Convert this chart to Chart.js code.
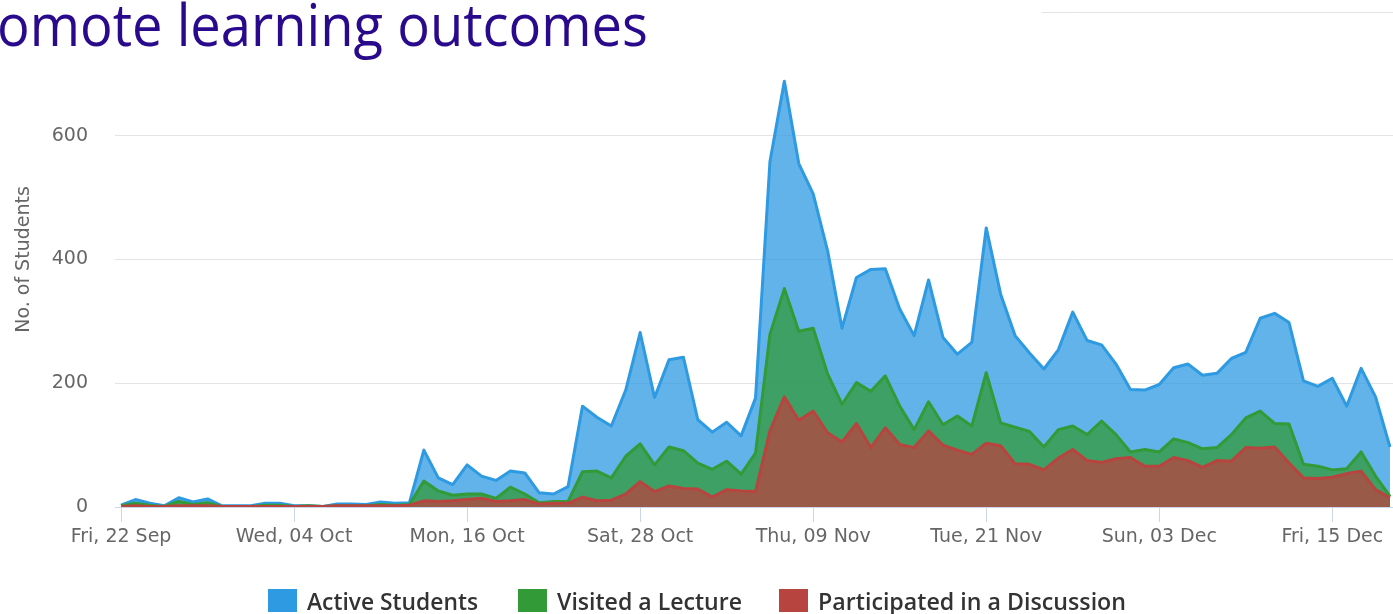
<!DOCTYPE html>
<html>
<head>
<meta charset="utf-8">
<script src="https://cdn.jsdelivr.net/npm/chart.js@4.4.0/dist/chart.umd.min.js"></script>
<style>
html,body{margin:0;padding:0;background:#fff;width:1393px;height:614px;overflow:hidden;}
body{position:relative;font-family:"Open Sans",sans-serif;}
#chartBox{position:absolute;left:0;top:0;width:1393px;height:614px;}
#title{position:absolute;left:0;top:0;width:1042px;height:62px;background:#fff;overflow:hidden;z-index:2;}
#title span{position:absolute;left:-3px;top:-5px;font-family:"Open Sans",sans-serif;font-size:58px;line-height:58px;color:#2a0a8c;white-space:nowrap;transform-origin:0 0;}
.legBox{position:absolute;top:589px;width:29px;height:23px;}
.legText{position:absolute;top:589px;font-family:"Open Sans",sans-serif;font-weight:600;font-size:24px;line-height:24px;color:#333;white-space:nowrap;transform-origin:0 0;}
</style>
</head>
<body>
<div id="chartBox"><canvas id="c" width="1393" height="614"></canvas></div>
<div id="title"><span id="titleText">omote learning outcomes</span></div>
<div id="legend"></div>
<script>
// ---- data (one value per day, starting Fri 22 Sep) ----
const seriesNames = ["Active Students", "Visited a Lecture", "Participated in a Discussion"];
const activeStudents = [3,12,6,2,15,8,13,2,2,2,6,6,2,2,1,5,5,4,8,6,7,92,47,36,68,50,43,58,55,23,21,33,163,145,131,189,282,177,238,242,141,121,137,115,176,558,688,555,506,414,289,371,384,385,320,277,367,274,247,266,451,344,277,249,223,254,315,269,262,231,190,189,198,225,231,213,216,240,250,305,313,298,204,195,208,163,224,178,97];
const visitedLecture = [2,6,3,1,9,4,7,1,1,1,3,3,1,2,1,2,2,2,4,3,4,42,26,19,21,21,14,32,21,7,9,9,57,58,47,82,102,68,97,91,71,61,74,53,87,279,353,284,289,215,166,201,187,212,163,125,170,133,147,131,217,136,129,122,97,125,131,117,139,117,89,93,89,110,104,94,96,117,144,155,135,134,69,66,60,62,89,50,17];
const participatedDiscussion = [1,2,1,1,2,2,2,1,1,1,1,1,1,1,1,2,2,2,2,2,3,10,9,10,12,14,9,10,12,5,6,6,16,10,11,21,41,25,34,30,29,16,28,26,25,123,178,140,155,120,105,135,96,128,101,96,123,100,92,85,103,99,70,69,60,79,93,75,72,78,80,66,66,80,75,64,75,74,96,95,97,71,47,46,48,54,58,28,15];
const tickDays = [0,12,24,36,48,60,72,84];
const tickLabels = ["Fri, 22 Sep","Wed, 04 Oct","Mon, 16 Oct","Sat, 28 Oct","Thu, 09 Nov","Tue, 21 Nov","Sun, 03 Dec","Fri, 15 Dec"];
const yTicks = [0,200,400,600,800];
const yTitle = "No. of Students";

const colors = ["#2d9ae2", "#339a38", "#b8443f"];
const fills = ["rgba(45,154,226,0.75)", "rgba(51,154,56,0.75)", "rgba(184,68,63,0.75)"];

const toPts = arr => arr.map((v, i) => ({x: i, y: v}));
const seriesData = [activeStudents, visitedLecture, participatedDiscussion];

const datasets = seriesData.map((arr, k) => ({
  label: seriesNames[k],
  data: toPts(arr),
  borderColor: colors[k],
  backgroundColor: fills[k],
  borderWidth: 3,
  fill: 'origin',
  pointRadius: 0,
  pointHoverRadius: 0,
  tension: 0,
  borderJoinStyle: 'round',
  order: 3 - k
}));

const axisFont = { family: '"DejaVu Sans", sans-serif', size: 19 };

new Chart(document.getElementById('c'), {
  type: 'line',
  data: { datasets },
  options: {
    responsive: false,
    animation: false,
    devicePixelRatio: 1,
    layout: { padding: { top: 12, right: 0, bottom: 0, left: 0 } },
    plugins: { legend: { display: false }, tooltip: { enabled: false } },
    scales: {
      x: {
        type: 'linear',
        min: -0.42,
        max: 88.21,
        afterBuildTicks: s => { s.ticks = tickDays.map(v => ({ value: v })); },
        afterFit: s => { s.height = 107; s.paddingLeft = 0; s.paddingRight = 0; },
        ticks: {
          callback: (v) => tickLabels[tickDays.indexOf(v)],
          autoSkip: false,
          maxRotation: 0,
          color: '#666',
          font: axisFont,
          padding: 4
        },
        grid: { display: true, drawOnChartArea: false, drawTicks: true, tickLength: 15, color: '#ccd6eb', lineWidth: 1 },
        border: { display: true, color: '#ccd6eb', width: 1 }
      },
      y: {
        min: 0,
        max: 800,
        afterBuildTicks: s => { s.ticks = yTicks.map(v => ({ value: v })); },
        afterFit: s => { s.width = 115; s.paddingTop = 0; s.paddingBottom = 0; },
        ticks: {
          color: '#666',
          font: axisFont,
          padding: 27
        },
        grid: { color: '#e3e3e3', lineWidth: 1, drawTicks: false },
        border: { display: false },
        title: {
          display: true,
          text: yTitle,
          color: '#666',
          font: axisFont,
          padding: { top: 13, bottom: 0 }
        }
      }
    }
  }
});

// ---- title & legend (HTML) ----
const mctx = document.createElement('canvas').getContext('2d');
function fitWidth(el, font, target) {
  mctx.font = font;
  const w = mctx.measureText(el.textContent).width;
  el.style.transform = 'scaleX(' + (target / w) + ')';
}
fitWidth(document.getElementById('titleText'), '58px "Open Sans"', 651);

const legBoxX = [268, 518, 779];
const legTextW = [171, 185, 308];
const leg = document.getElementById('legend');
seriesNames.forEach((name, k) => {
  const b = document.createElement('div');
  b.className = 'legBox';
  b.style.left = legBoxX[k] + 'px';
  b.style.background = colors[k];
  leg.appendChild(b);
  const t = document.createElement('div');
  t.className = 'legText';
  t.style.left = (legBoxX[k] + 39) + 'px';
  t.textContent = name;
  leg.appendChild(t);
  fitWidth(t, '600 24px "Open Sans"', legTextW[k]);
});
</script>
</body>
</html>
